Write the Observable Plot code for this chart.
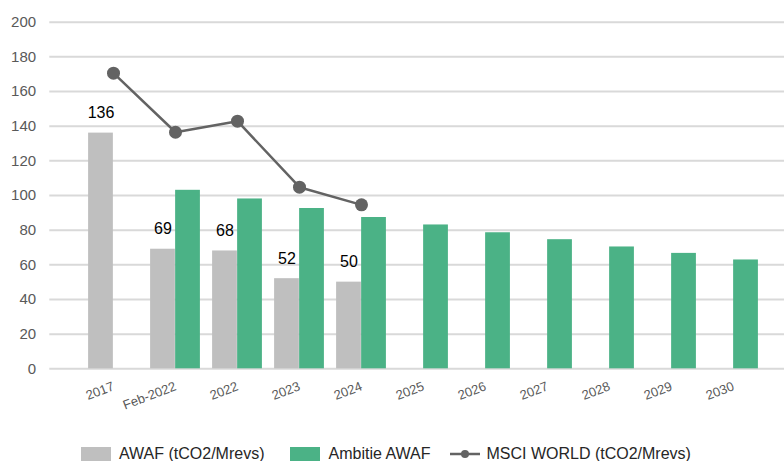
<!DOCTYPE html>
<html>
<head>
<meta charset="utf-8">
<script src="https://cdn.jsdelivr.net/npm/d3@7"></script>
<script src="https://cdn.jsdelivr.net/npm/@observablehq/plot@0.6"></script>
<style>
  html, body { margin: 0; padding: 0; background: #fff; }
  body { width: 784px; height: 461px; overflow: hidden; font-family: "Liberation Sans", Arial, sans-serif; }
  #legend { display: flex; align-items: center; height: 21px; margin-top: 3px; padding-left: 81px; font-size: 16px; color: #262626; }
  .item { display: flex; align-items: center; }
  .sw { width: 30px; height: 14px; margin-right: 8px; }
  .ln { width: 30px; height: 14px; margin-right: 6px; }
</style>
</head>
<body>
<div id="chart"></div>
<div id="legend"></div>
<script>
const categories = ["2017","Feb-2022","2022","2023","2024","2025","2026","2027","2028","2029","2030"];
const awaf      = [136, 69, 68, 52, 50, null, null, null, null, null, null];
const ambitie   = [null, 103, 98, 92.5, 87.3, 83, 78.5, 74.5, 70.3, 66.6, 62.8];
const msci      = [170.6, 136.5, 142.9, 104.8, 94.6, null, null, null, null, null, null];
const awafLabels = ["136", "69", "68", "52", "50", null, null, null, null, null, null];
const yTicks = [0, 20, 40, 60, 80, 100, 120, 140, 160, 180, 200];
const seriesNames = ["AWAF (tCO2/Mrevs)", "Ambitie AWAF", "MSCI WORLD (tCO2/Mrevs)"];
const colors = { awaf: "#bfbfbf", ambitie: "#4bb286", msci: "#636363" };

const rows = categories.map((c, i) => ({cat: c, awaf: awaf[i], ambitie: ambitie[i], msci: msci[i], label: awafLabels[i]}));
const awafRows = rows.filter(d => d.awaf != null);
const ambRows = rows.filter(d => d.ambitie != null);
const msciRows = rows.filter(d => d.msci != null);

const chart = Plot.plot({
  width: 784,
  height: 440,
  marginLeft: 80.6,
  marginRight: 18.6,
  marginTop: 21.7,
  marginBottom: 71.7,
  style: { fontFamily: "Liberation Sans, Arial, sans-serif", color: "#595959", background: "#fff" },
  x: { domain: categories, padding: 0 },
  y: { domain: [0, 200] },
  marks: [
    Plot.ruleY(yTicks, { stroke: "#d9d9d9", strokeWidth: 2, insetLeft: -31.3, insetRight: -18.6 }),
    Plot.barY(awafRows, { x: "cat", y: "awaf", fill: colors.awaf, insetLeft: 6.1, insetRight: 31.13 }),
    Plot.barY(ambRows, { x: "cat", y: "ambitie", fill: colors.ambitie, insetLeft: 31.13, insetRight: 6.1 }),
    Plot.text(awafRows, { x: "cat", y: "awaf", text: "label", dx: -12.5, dy: -20, fontSize: 16, fill: "#000" }),
    Plot.line(msciRows, { x: "cat", y: "msci", stroke: colors.msci, strokeWidth: 2.5 }),
    Plot.dot(msciRows, { x: "cat", y: "msci", r: 6.5, fill: colors.msci, stroke: "none" }),
    Plot.axisY(yTicks, { tickSize: 0, tickPadding: 45, fontSize: 15, label: null }),
    Plot.axisX({ tickSize: 0, tickPadding: 17, tickRotate: -21, fontSize: 13, label: null })
  ]
});
document.getElementById("chart").appendChild(chart);

const legend = document.getElementById("legend");
legend.innerHTML = `
  <span class="item" style="margin-right:26px"><span class="sw" style="background:${colors.awaf}"></span>${seriesNames[0]}</span>
  <span class="item" style="margin-right:20px"><span class="sw" style="background:${colors.ambitie}"></span>${seriesNames[1]}</span>
  <span class="item"><svg class="ln" viewBox="0 0 30 14"><line x1="0" x2="30" y1="7" y2="7" stroke="${colors.msci}" stroke-width="2.5"/><circle cx="15" cy="7" r="4" fill="${colors.msci}"/></svg>${seriesNames[2]}</span>
`;
</script>
</body>
</html>
